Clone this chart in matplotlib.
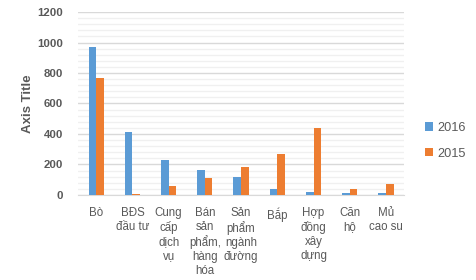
import numpy as np
import matplotlib.pyplot as plt
from matplotlib.ticker import MultipleLocator

plt.rcParams['font.family'] = ['Liberation Sans', 'DejaVu Sans']

categories = ["Bò", "BĐS\nđầu tư", "Cung\ncấp\ndịch\nvụ", "Bán\nsản\nphẩm,\nhàng\nhóa",
              "Sản\nphẩm\nngành\nđường", "Bắp", "Hợp\nđồng\nxây\ndựng", "Căn\nhộ", "Mủ\ncao su"]
v2016 = [970, 414, 230, 165, 119, 39, 20, 13, 13]
v2015 = [767, 7, 59, 112, 184, 271, 442, 39, 72]

blue = '#5B9BD5'
orange = '#ED7D31'
grey = '#595959'

fig = plt.figure(figsize=(4.76, 2.8), dpi=100)
ax = fig.add_axes([0.164, 0.304, 0.685, 0.653])

ind = np.arange(len(categories))
width = 0.21
ax.bar(ind - width / 2, v2016, width, color=blue, label='2016', zorder=3)
ax.bar(ind + width / 2, v2015, width, color=orange, label='2015', zorder=3)

ax.set_xlim(-0.5, len(categories) - 0.5)
ax.set_ylim(0, 1200)
ax.yaxis.set_major_locator(MultipleLocator(200))
ax.yaxis.set_minor_locator(MultipleLocator(40))
ax.grid(which='major', axis='y', color='#D9D9D9', linewidth=1, zorder=0)
ax.grid(which='minor', axis='y', color='#F0F0F0', linewidth=1, zorder=0)

for s in ['top', 'right', 'left']:
    ax.spines[s].set_visible(False)
ax.spines['bottom'].set_color('#D9D9D9')

ax.set_xticks(ind)
ax.set_xticklabels(categories, fontsize=8.3, color=grey, linespacing=1.2, va='top')
ax.tick_params(axis='both', which='both', length=0)
ax.tick_params(axis='x', pad=9)
ax.tick_params(axis='y', pad=11)
for t in ax.get_yticklabels():
    t.set_fontsize(8.2)
    t.set_fontweight('bold')
    t.set_color(grey)

ax.set_ylabel('Axis Title', fontsize=9.5, fontweight='bold', color=grey, labelpad=2)

leg = fig.legend(loc='center left', bbox_to_anchor=(0.869, 0.497), frameon=False,
                 fontsize=9.2, handlelength=0.65, handleheight=0.65, handletextpad=0.3,
                 labelspacing=1.05)
for t in leg.get_texts():
    t.set_color(grey)

fig.savefig('out.png', dpi=100)
